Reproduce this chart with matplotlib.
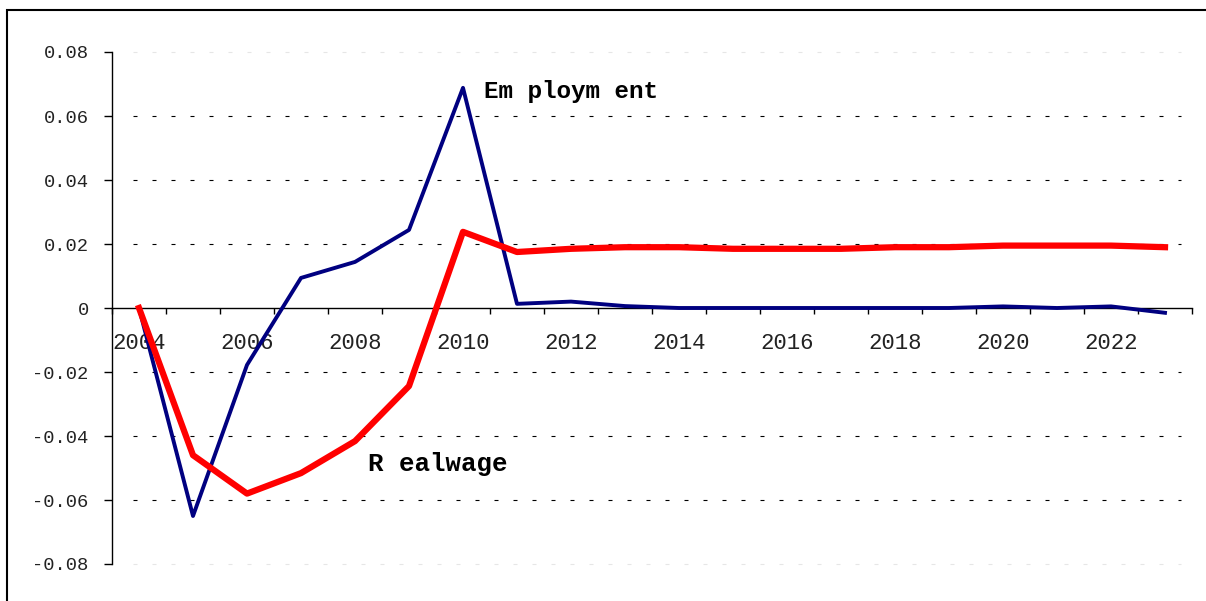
import numpy as np
import matplotlib
matplotlib.use("Agg")
import matplotlib.pyplot as plt
from matplotlib.patches import Rectangle

# values
years = np.arange(2004, 2024)
employment = [0.0, -0.065, -0.0178, 0.0094, 0.0144, 0.0244, 0.0688, 0.0013, 0.0020, 0.0006,
              0.0, 0.0, 0.0, 0.0, 0.0, 0.0, 0.0005, 0.0, 0.0005, -0.0015]
realwage = [0.0, -0.046, -0.058, -0.0516, -0.0416, -0.0244, 0.0238, 0.0175, 0.0185, 0.0190,
            0.0190, 0.0185, 0.0185, 0.0185, 0.0190, 0.0190, 0.0195, 0.0195, 0.0195, 0.0190]
y_ticks = [-0.08, -0.06, -0.04, -0.02, 0.0, 0.02, 0.04, 0.06, 0.08]
y_labels = ["-0.08", "-0.06", "-0.04", "-0.02", "0", "0.02", "0.04", "0.06", "0.08"]
x_label_years = np.arange(2004, 2024, 2)

W, H = 1206, 601
fig = plt.figure(figsize=(W / 100, H / 100), dpi=100)
fig.patch.set_facecolor("white")

# outer chart frame (runs off the right and bottom edge)
fig.patches.append(Rectangle((7 / W, -0.2), 1.2, 1 - 10 / H + 0.2, transform=fig.transFigure,
                             fill=False, edgecolor="black", linewidth=1.5, clip_on=False))

ax = fig.add_axes([112 / W, 1 - 564 / H, 1080 / W, 512 / H])
ax.set_xlim(2003.5, 2023.5)
ax.set_ylim(-0.08, 0.08)

# dashed gridlines, outer ones very faint
for lv in y_ticks:
    if lv == 0:
        continue
    col = "#e6e6e6" if abs(lv) > 0.07 else "black"
    ax.plot([2003.5 + 0.38, 2023.3], [lv, lv], color=col, linewidth=0.8,
            dashes=(3.6, 13.5), zorder=1, clip_on=False)

ax.plot(years, employment, color="#000080", linewidth=2.8, zorder=3)
ax.plot(years, realwage, color="#ff0000", linewidth=4.5, zorder=4)

for s in ["top", "right"]:
    ax.spines[s].set_visible(False)
ax.spines["bottom"].set_position(("data", 0))
ax.spines["bottom"].set_linewidth(1.0)
ax.spines["left"].set_linewidth(1.0)

mono = "Liberation Mono"
ax.set_yticks(y_ticks)
ax.set_yticklabels(y_labels, fontfamily=mono, fontsize=13.5, color="#222222")
ax.tick_params(axis="y", direction="out", length=5.8, width=1, pad=11)

ax.set_xticks(x_label_years)
ax.set_xticklabels([str(y) for y in x_label_years], fontfamily=mono, fontsize=16, color="#222222")
ax.set_xticks(np.arange(2003.5, 2024.0, 1.0), minor=True)
ax.tick_params(axis="x", which="major", length=0, pad=18)
ax.tick_params(axis="x", which="minor", direction="out", length=4.5, width=1)

ax.text(2010.38, 0.0678, "Em ploym ent", fontfamily=mono, fontweight="bold", fontsize=17.5,
        va="center", ha="left")
ax.text(2008.25, -0.0487, "R ealwage", fontfamily=mono, fontweight="bold", fontsize=18.5,
        va="center", ha="left")

fig.savefig("out.png", dpi=100)
